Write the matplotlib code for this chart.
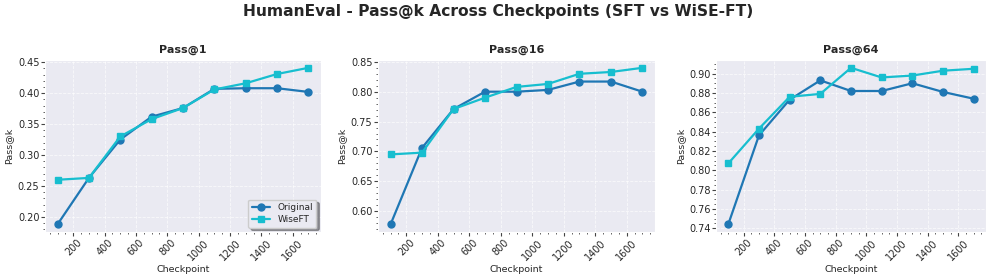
import matplotlib
matplotlib.use("Agg")
import matplotlib.pyplot as plt
import seaborn as sns
from matplotlib.ticker import AutoMinorLocator, MultipleLocator

sns.set_style("darkgrid")

checkpoints = [100, 300, 500, 700, 900, 1100, 1300, 1500, 1700]
titles = ["Pass@1", "Pass@16", "Pass@64"]
original = [
    [0.188, 0.263, 0.325, 0.362, 0.376, 0.407, 0.408, 0.408, 0.402],
    [0.578, 0.706, 0.771, 0.800, 0.800, 0.803, 0.817, 0.817, 0.800],
    [0.744, 0.836, 0.873, 0.893, 0.882, 0.882, 0.890, 0.881, 0.874],
]
wiseft = [
    [0.260, 0.263, 0.330, 0.358, 0.376, 0.406, 0.416, 0.431, 0.441],
    [0.695, 0.698, 0.771, 0.790, 0.808, 0.813, 0.830, 0.833, 0.840],
    [0.807, 0.843, 0.876, 0.879, 0.906, 0.896, 0.898, 0.903, 0.905],
]
y_steps = [0.05, 0.05, 0.02]

fig = plt.figure(figsize=(9.96, 2.79), dpi=100)
# axes boxes in figure fractions (left, bottom, width, height)
boxes = [
    (45 / 996, 0.168, 276 / 996, 0.617),
    (378 / 996, 0.168, 277 / 996, 0.617),
    (716 / 996, 0.168, 270 / 996, 0.617),
]

axes = []
for i, box in enumerate(boxes):
    ax = fig.add_axes(box)
    axes.append(ax)
    ax.plot(checkpoints, original[i], marker="o", color="#1f77b4", lw=1.6, ms=5, label="Original")
    ax.plot(checkpoints, wiseft[i], marker="s", color="#17becf", lw=1.6, ms=5, label="WiseFT")
    ax.set_title(titles[i], fontsize=8, fontweight="bold", pad=5)
    ax.set_xlabel("Checkpoint", fontsize=6.8, labelpad=2)
    ax.set_ylabel("Pass@k", fontsize=6.8, labelpad=3)
    ax.set_xticks([200, 400, 600, 800, 1000, 1200, 1400, 1600])
    ax.yaxis.set_major_locator(MultipleLocator(y_steps[i]))
    ax.tick_params(axis="both", labelsize=7, length=3, pad=1)
    ax.tick_params(axis="x", rotation=45)
    ax.xaxis.set_minor_locator(AutoMinorLocator())
    ax.yaxis.set_minor_locator(AutoMinorLocator())
    ax.tick_params(which="both", bottom=True, left=True, color="#444444")
    ax.tick_params(which="minor", length=1.5)
    ax.grid(True, ls="--", lw=0.6, alpha=0.7)

axes[0].legend(loc="lower right", fontsize=6.5, shadow=True, frameon=True,
               handlelength=2, borderpad=0.4, labelspacing=0.3)

fig.suptitle("HumanEval - Pass@k Across Checkpoints (SFT vs WiSE-FT)", fontsize=11.2, fontweight="bold", y=0.985)
fig.savefig("out.png", dpi=100)
